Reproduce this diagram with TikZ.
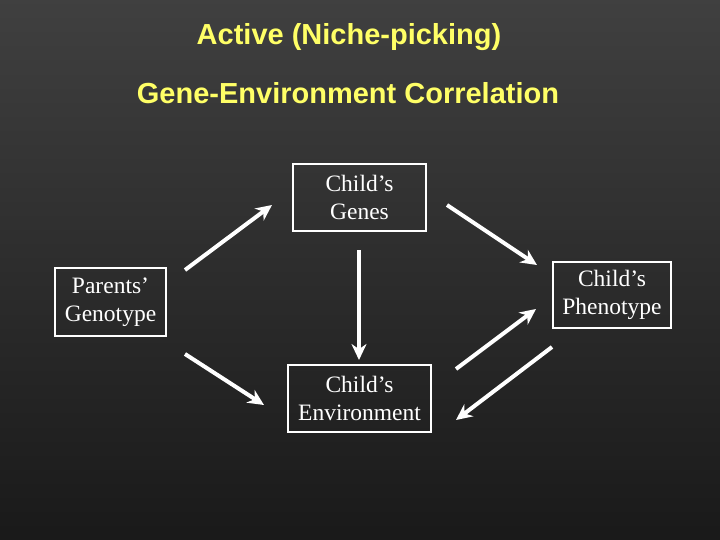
\documentclass[tikz,border=0pt]{standalone}
\usepackage{fontspec}
\setmainfont{Liberation Serif}
\newfontfamily\titlefont{Liberation Sans}
\usetikzlibrary{arrows.meta}
\definecolor{ttl}{HTML}{FFFF66}
\begin{document}
\begin{tikzpicture}[x=1pt,y=-1pt,
  box/.style={draw=white,line width=2pt,text=white,font=\fontsize{23.5}{28.5}\selectfont,align=center,inner sep=0pt},
  arr/.style={draw=white,line width=4pt,-{Stealth[length=16pt,width=15pt]}}]
\shade[top color=black!75,bottom color=black!90] (0,0) rectangle (720,540);
\useasboundingbox (0,0) rectangle (720,540);
\node[text=ttl,font=\titlefont\bfseries\fontsize{29}{32}\selectfont] (t1) at (349,37) {Active (Niche-picking)};
\node[text=ttl,font=\titlefont\bfseries\fontsize{29}{32}\selectfont] (t2) at (348,93) {Gene-Environment Correlation};
\node[box,minimum width=133pt,minimum height=67pt] (g) at (359.5,197.5) {Child’s\\Genes};
\node[box,minimum width=111pt,minimum height=68pt] (p) at (110.5,302) {Parents’\\Genotype};
\node[box,minimum width=118pt,minimum height=66pt] (ph) at (612,295) {Child’s\\Phenotype};
\node[box,minimum width=143pt,minimum height=67pt] (e) at (359.5,398.5) {Child’s\\Environment};
\coordinate (a1) at (185,270); \coordinate (b1) at (272,205);
\coordinate (a2) at (447,205); \coordinate (b2) at (537,265);
\coordinate (a3) at (359,250); \coordinate (b3) at (359,360);
\coordinate (a4) at (185,354); \coordinate (b4) at (264,405);
\coordinate (a5) at (456,369); \coordinate (b5) at (536,309);
\coordinate (a6) at (552,347); \coordinate (b6) at (456,420);
\foreach \i in {1,...,6} \draw[arr] (a\i) -- (b\i);
\end{tikzpicture}
\end{document}
